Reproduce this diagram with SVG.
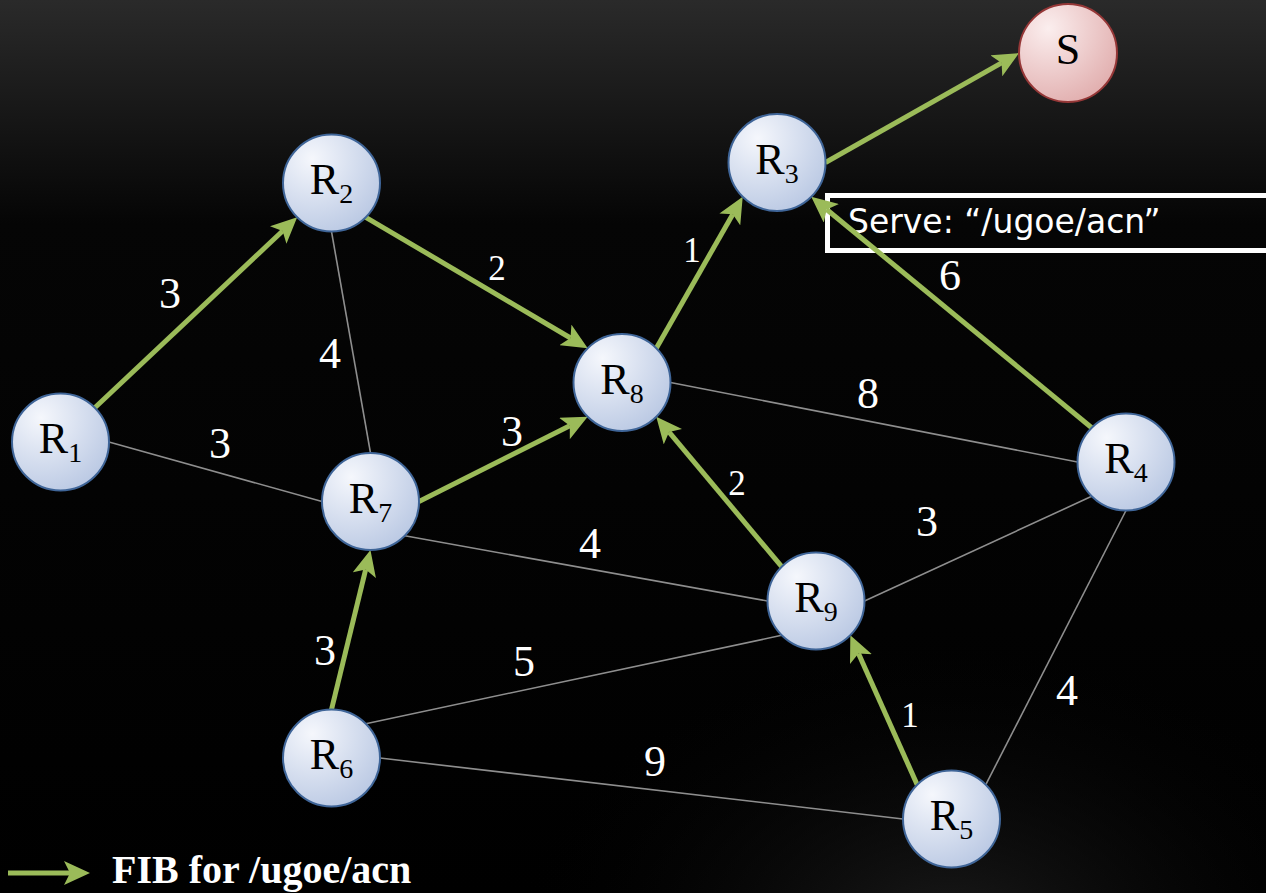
<svg xmlns="http://www.w3.org/2000/svg" width="1266" height="893" viewBox="0 0 1266 893">
<defs>
  <linearGradient id="bg" x1="0" y1="0" x2="0" y2="1">
    <stop offset="0" stop-color="#2a2a2a"/>
    <stop offset="0.25" stop-color="#050505"/>
    <stop offset="1" stop-color="#000"/>
  </linearGradient>
  <radialGradient id="bg2" cx="0.75" cy="1.05" r="0.35">
    <stop offset="0" stop-color="#222" stop-opacity="0.8"/>
    <stop offset="1" stop-color="#000" stop-opacity="0"/>
  </radialGradient>
  <radialGradient id="nodeFill" cx="0.3" cy="0.25" r="0.8">
    <stop offset="0" stop-color="#f5f7fc"/>
    <stop offset="1" stop-color="#bccae4"/>
  </radialGradient>
  <radialGradient id="sFill" cx="0.3" cy="0.25" r="0.8">
    <stop offset="0" stop-color="#fbeeee"/>
    <stop offset="1" stop-color="#e2b0b0"/>
  </radialGradient>
  <marker id="ah" markerUnits="userSpaceOnUse" markerWidth="26" markerHeight="24" viewBox="0 0 26 24" refX="6" refY="12" orient="auto">
    <path d="M0,0 L26,12 L0,24 L6,12 Z" fill="#9bbb59"/>
  </marker>
  <style>
    .edge { stroke: #8e8e8e; stroke-width: 1.6; fill: none; }
    .fib { stroke: #9bbb59; stroke-width: 5; fill: none; marker-end: url(#ah); }
    .node { fill: url(#nodeFill); stroke: #3f6598; stroke-width: 2; }
    .snode { fill: url(#sFill); stroke: #953737; stroke-width: 2; }
    .lbl { font-family: "Liberation Serif", serif; font-size: 44px; fill: #000; text-anchor: middle; }
    .sub { font-size: 28px; }
    .w { font-family: "Liberation Serif", serif; font-size: 44px; fill: #fff; text-anchor: middle; }
    .ws { font-family: "Liberation Serif", serif; font-size: 35px; fill: #fff; text-anchor: middle; }
  </style>
</defs>
<rect width="1266" height="893" fill="url(#bg)"/>
<rect width="1266" height="893" fill="url(#bg2)"/>

<g id="serve-box">
  <rect x="827.5" y="195.5" width="450" height="55" fill="none" stroke="#fff" stroke-width="5"/>
  <text x="848" y="233" font-family="DejaVu Sans, Verdana, sans-serif" font-size="33" fill="#fff">Serve: “/ugoe/acn”</text>
</g>

<g id="connectors">
  <line class="edge" x1="109" y1="442" x2="322" y2="501.5"/>
  <line class="edge" x1="331.5" y1="231.5" x2="370.5" y2="453"/>
  <line class="edge" x1="670.5" y1="382.5" x2="1077.5" y2="462"/>
  <line class="edge" x1="404.8" y1="535.8" x2="767.5" y2="601"/>
  <line class="edge" x1="864.5" y1="601" x2="1091.7" y2="496.3"/>
  <line class="edge" x1="365.8" y1="723.7" x2="781.7" y2="635.3"/>
  <line class="edge" x1="380" y1="758" x2="903" y2="819"/>
  <line class="edge" x1="985.8" y1="784.7" x2="1126" y2="510.5"/>

  <line class="fib" x1="94.8" y1="407.7" x2="282.6" y2="231.0"/>
  <line class="fib" x1="365.8" y1="217.3" x2="570.5" y2="338.0"/>
  <line class="fib" x1="419" y1="501.5" x2="569.8" y2="425.8"/>
  <line class="fib" x1="331.5" y1="709.5" x2="365.7" y2="569.4"/>
  <line class="fib" x1="781.7" y1="566.7" x2="669.1" y2="432.1"/>
  <line class="fib" x1="917.2" y1="784.7" x2="858.5" y2="653.6"/>
  <line class="fib" x1="656.3" y1="348.2" x2="732.8" y2="214.2"/>
  <line class="fib" x1="1091.7" y1="427.7" x2="826.7" y2="209.5"/>
  <line class="fib" x1="825.5" y1="162.5" x2="1001.6" y2="62.9"/>
</g>

<g id="weights">
  <text class="w" x="170" y="308">3</text>
  <text class="w" x="330" y="368">4</text>
  <text class="ws" x="497" y="280">2</text>
  <text class="ws" x="692" y="262">1</text>
  <text class="w" x="950" y="290">6</text>
  <text class="w" x="868" y="408">8</text>
  <text class="w" x="220" y="458">3</text>
  <text class="w" x="512" y="446">3</text>
  <text class="ws" x="737" y="495">2</text>
  <text class="w" x="927" y="536">3</text>
  <text class="w" x="590" y="558">4</text>
  <text class="w" x="325" y="665">3</text>
  <text class="w" x="524" y="676">5</text>
  <text class="w" x="655" y="776">9</text>
  <text class="ws" x="910" y="727">1</text>
  <text class="w" x="1067" y="705">4</text>
</g>

<g id="R1"><circle class="node" cx="60.5" cy="442" r="48.5"/><text class="lbl" x="60.5" y="453">R<tspan class="sub" dy="9">1</tspan></text></g>
<g id="R2"><circle class="node" cx="331.5" cy="183" r="48.5"/><text class="lbl" x="331.5" y="194">R<tspan class="sub" dy="9">2</tspan></text></g>
<g id="R3"><circle class="node" cx="777" cy="162.5" r="48.5"/><text class="lbl" x="777" y="173.5">R<tspan class="sub" dy="9">3</tspan></text></g>
<g id="R4"><circle class="node" cx="1126" cy="462" r="48.5"/><text class="lbl" x="1126" y="473">R<tspan class="sub" dy="9">4</tspan></text></g>
<g id="R5"><circle class="node" cx="951.5" cy="819" r="48.5"/><text class="lbl" x="951.5" y="830">R<tspan class="sub" dy="9">5</tspan></text></g>
<g id="R6"><circle class="node" cx="331.5" cy="758" r="48.5"/><text class="lbl" x="331.5" y="769">R<tspan class="sub" dy="9">6</tspan></text></g>
<g id="R7"><circle class="node" cx="370.5" cy="501.5" r="48.5"/><text class="lbl" x="370.5" y="512.5">R<tspan class="sub" dy="9">7</tspan></text></g>
<g id="R8"><circle class="node" cx="622" cy="382.5" r="48.5"/><text class="lbl" x="622" y="393.5">R<tspan class="sub" dy="9">8</tspan></text></g>
<g id="R9"><circle class="node" cx="816" cy="601" r="48.5"/><text class="lbl" x="816" y="612">R<tspan class="sub" dy="9">9</tspan></text></g>
<g id="S"><circle class="snode" cx="1068" cy="53" r="49"/><text class="lbl" x="1068" y="64">S</text></g>

<g id="legend">
  <line class="fib" x1="8" y1="873" x2="70" y2="873"/>
  <text x="112" y="883" font-family="Liberation Serif, serif" font-weight="bold" font-size="40" fill="#fff">FIB for /ugoe/acn</text>
</g>
</svg>
